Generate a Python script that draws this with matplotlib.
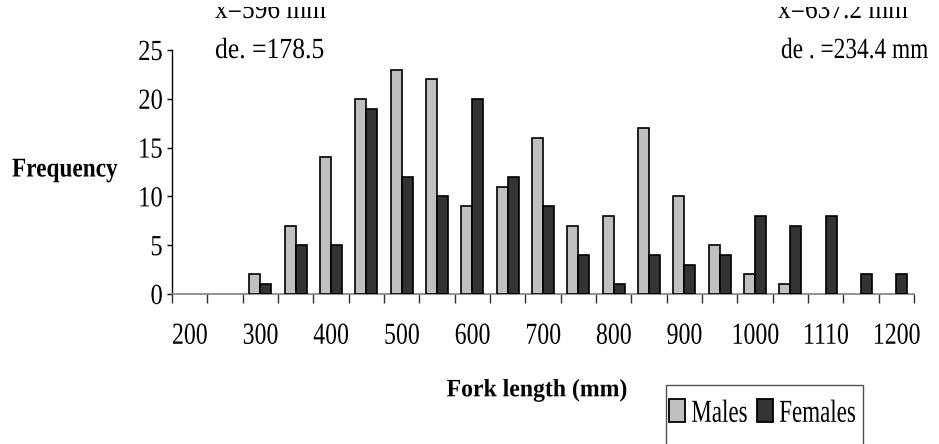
import numpy as np
import matplotlib
matplotlib.use("Agg")
import matplotlib.pyplot as plt
from matplotlib.patheffects import AbstractPathEffect
from matplotlib.transforms import Affine2D, Bbox, TransformedBbox
from matplotlib.patches import Patch, Rectangle

# ---------------- data ----------------
bins = [200, 250, 300, 350, 400, 450, 500, 550, 600, 650, 700,
        750, 800, 850, 900, 950, 1000, 1050, 1100, 1150, 1200]
males = [0, 0, 2, 7, 14, 20, 23, 22, 9, 11, 16, 7, 8, 17, 10, 5, 2, 1, 0, 0, 0]
females = [0, 0, 1, 5, 5, 19, 12, 10, 20, 12, 9, 4, 1, 4, 3, 4, 8, 7, 8, 2, 2]
tick_labels = ["200", "300", "400", "500", "600", "700", "800", "900",
               "1000", "1110", "1200"]
yticks = [0, 5, 10, 15, 20, 25]

MALE_C = "#c0c0c0"
FEMALE_C = "#333333"
SERIF = ["Liberation Serif", "DejaVu Serif"]
plt.rcParams["font.family"] = SERIF


class Condense(AbstractPathEffect):
    """Rescale text glyphs (mimic a narrow Times face)."""
    def __init__(self, sx=0.8, anchor="center", sy=1.0):
        super().__init__()
        self.sx = sx
        self.sy = sy
        self.anchor = anchor

    def draw_path(self, renderer, gc, tpath, affine, rgbFace=None):
        ext = tpath.get_extents()
        if self.anchor == "left":
            a = 0.0
        elif self.anchor == "right":
            a = ext.x1
        else:
            a = (ext.x0 + ext.x1) / 2
        t = (Affine2D().translate(-a, 0).scale(self.sx, self.sy).translate(a, 0)
             + affine)
        renderer.draw_path(gc, tpath, t, rgbFace)


W, H = 939, 444
fig = plt.figure(figsize=(W / 100, H / 100), dpi=100)
ax = fig.add_axes([172 / W, 150 / H, (914 - 172) / W, (294 - 50) / H])

n = len(bins)
x = np.arange(n)
bw = 0.31
m = np.array(males)
f = np.array(females)
mi = np.nonzero(m)[0]
fi = np.nonzero(f)[0]
ax.bar(x[mi] - bw / 2, m[mi], bw, color=MALE_C, edgecolor="black", linewidth=1.2, zorder=3)
ax.bar(x[fi] + bw / 2, f[fi], bw, color=FEMALE_C, edgecolor="black", linewidth=1.2, zorder=3)

ax.set_xlim(-0.5, n - 0.5)
ax.set_ylim(0, 25)
for s in ("top", "right"):
    ax.spines[s].set_visible(False)
ax.spines["left"].set_color("black")
ax.spines["left"].set_linewidth(1.0)
ax.spines["bottom"].set_color("#808080")
ax.spines["bottom"].set_linewidth(1.2)

ax.set_yticks(yticks)
ax.set_yticklabels([str(v) for v in yticks])
ax.tick_params(axis="y", direction="out", length=3.6, width=1, pad=3,
               labelsize=21, color="black")
for lbl in ax.get_yticklabels():
    lbl.set_path_effects([Condense(0.84, "right")])

ax.set_xticks(np.arange(-0.5, n, 1.0))
ax.set_xticklabels([])
ax.tick_params(axis="x", which="major", direction="out", length=6.5, width=1,
               color="#303030")
ax.set_xticks(x[::2], minor=True)
ax.set_xticklabels(tick_labels, minor=True)
ax.tick_params(axis="x", which="minor", length=0, pad=20, labelsize=22)
for lbl in ax.get_xticklabels(minor=True):
    lbl.set_path_effects([Condense(0.78, "center")])

# axis titles
t = fig.text(12 / W, 1 - 170 / H, "Frequency", fontsize=19.5, fontweight="bold",
             ha="left", va="center")
t.set_path_effects([Condense(0.86, "left")])
t = fig.text(537 / W, 1 - 390 / H, "Fork length (mm)", fontsize=18,
             fontweight="bold", ha="center", va="center")
t.set_path_effects([Condense(0.95, "center")])

# statistics annotations (top row clipped as in the original)
clip = TransformedBbox(Bbox([[0, 0], [1, 1 - 7 / H]]), fig.transFigure)
for xx, s in [(215, "x\u0304=596 mm"), (778, "x\u0304=637.2 mm")]:
    t = fig.text(xx / W, 1 - 18 / H, s, fontsize=21, ha="left", va="baseline")
    t.set_clip_box(clip)
    t.set_clip_on(True)
    t.set_path_effects([Condense(0.87, "left")])
t = fig.text(215 / W, 1 - 58 / H, "de. =178.5", fontsize=21, ha="left",
             va="baseline")
t.set_path_effects([Condense(0.88, "left")])
t = fig.text(781 / W, 1 - 58 / H, "de . =234.4 mm", fontsize=17.5, ha="left",
             va="baseline")
t.set_path_effects([Condense(0.96, "left", sy=1.2)])

# legend
fig.add_artist(Rectangle((666 / W, -0.05), (863 - 666) / W, (1 - 385 / H) + 0.05,
                         transform=fig.transFigure, fill=False,
                         edgecolor="#505050", linewidth=1.0))
handles = [Patch(facecolor=MALE_C, edgecolor="black", linewidth=1.3),
           Patch(facecolor=FEMALE_C, edgecolor="black", linewidth=1.3)]
leg = fig.legend(handles, ["Males", "Females"], ncol=2, frameon=False,
                 loc="center left", bbox_to_anchor=(669 / W, 1 - 414 / H),
                 fontsize=23, handlelength=0.5, handleheight=0.72,
                 handletextpad=0.2, columnspacing=-0.4, borderpad=0,
                 borderaxespad=0)
for txt in leg.get_texts():
    txt.set_path_effects([Condense(0.72, "left")])

fig.savefig("out.png", dpi=100)
